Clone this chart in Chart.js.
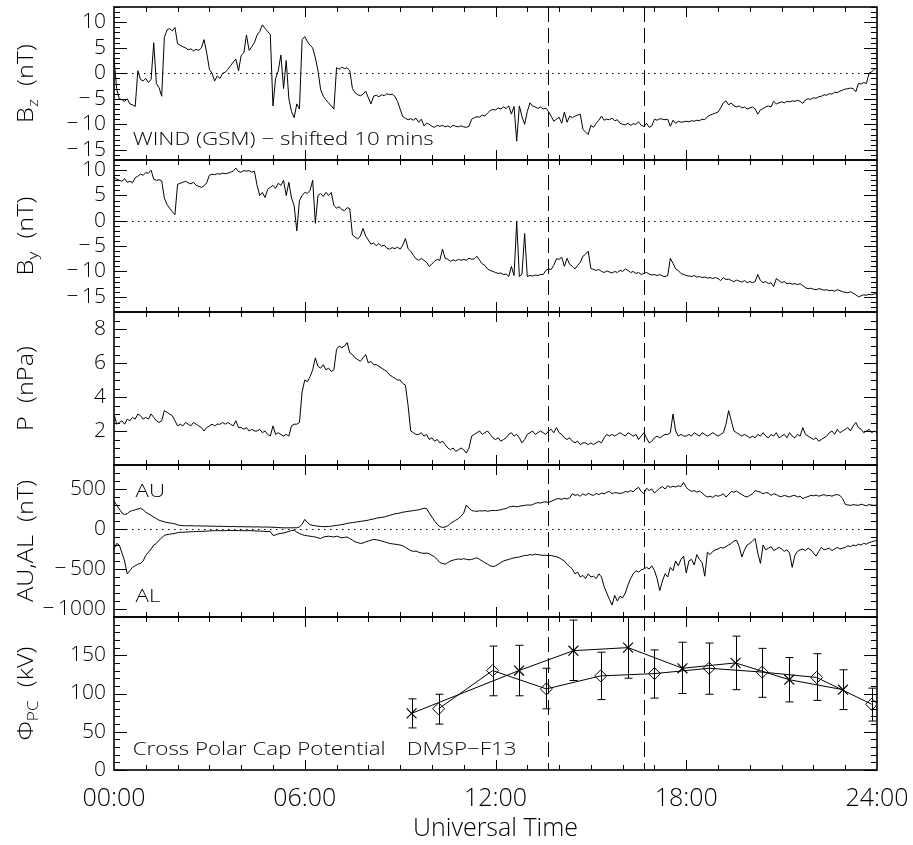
<!DOCTYPE html>
<html>
<head>
<meta charset="utf-8">
<script src="https://cdn.jsdelivr.net/npm/chart.js@4.4.1/dist/chart.umd.min.js"></script>
<style>
  html, body { margin: 0; padding: 0; background: #fff; }
  #page { position: relative; width: 913px; height: 845px; overflow: hidden; background: #fff; }
  #page canvas { position: absolute; left: 0; }
</style>
</head>
<body>
<div id="page"></div>
<script>
// 5-minute samples, 00:00 .. 24:00, one row per hour
const bzValues = [
  3, -3, -5, -5.2, -5.5, -5, -6, -6.2, -6.5, 0.5, -1.2, -1.5,
  -1, -1.8, -1.2, 6, -2, -2.8, -4.5, 7, 8.5, 8.8, 8.3, 9,
  5.8, 5.5, 5.2, 5, 4.6, 4.8, 4.4, 4.7, 4.5, 5, 6.6, 4,
  0.8, 0, -1.5, -0.5, -1, 0, 0.2, 0.8, 1.5, 2.2, 2.8, 0.5,
  3.5, 4, 7.5, 4.5, 5.2, 6, 7.5, 8.2, 9.5, 8.8, 8.2, 7.6,
  -6.4, -1, 0.5, 3.6, -3, 2.5, -5, -7.5, -8.7, -6, -7, 6.6,
  7.2, 6.2, 5.5, 5, 3, 0.5, -3.2, -4.5, -5.2, -5.8, -6.4, -7,
  1.1, 0.8, 1.2, 0.9, 1.1, 0.5, -3, -3.8, -4.2, -4.4, -4.1, -3.5,
  -4.8, -6, -4.5, -4.3, -4.6, -4.2, -4.4, -4, -4.2, -4.1, -4.5, -5.5,
  -7, -8.5, -8.8, -9.1, -8.9, -9.2, -8.8, -9.6, -9, -10.3, -9.8, -10,
  -10.4, -10.6, -10.2, -10.4, -10.2, -10.5, -10.3, -10.6, -10.2, -10.4, -10.5, -10.3,
  -10.5, -10.6, -10.4, -9, -8.7, -8.5, -8.6, -8.2, -8.4, -7.8, -7.3, -7.1,
  -7.2, -6.8, -7, -6.6, -6.9, -6.4, -8, -6.5, -13.3, -6.4, -8.5, -10,
  -7.5, -5.8, -6.4, -6.6, -6.9, -6.6, -7, -6.8, -7.5, -8.4, -9.4, -9,
  -8.6, -9.8, -7.6, -9.6, -8.4, -8.7, -8.4, -8.2, -8, -11, -11.5, -12,
  -10.2, -10.6, -9.8, -9.2, -8.4, -9.2, -9, -9.1, -8.8, -9.3, -9.1, -9.8,
  -10, -10.1, -9.8, -10.2, -9.9, -10, -9.5, -10.2, -10.4, -9.8, -10.6, -10.3,
  -9, -9.2, -8.9, -9, -9.1, -9, -10.4, -9.2, -9.8, -9.4, -9.6, -9.5,
  -9.4, -9.5, -9.3, -9.4, -9.2, -9.3, -9, -9.1, -8.5, -8.2, -8, -7.8,
  -7.6, -6.8, -5.8, -5.4, -6.2, -5.8, -6.4, -6.6, -6.4, -6.8, -6.6, -7,
  -6.8, -6.6, -7, -8, -7.2, -6.9, -6.6, -6.4, -6.6, -5.5, -6, -5.8,
  -5.6, -5.8, -5.5, -5.6, -5.4, -5.5, -5.3, -5.5, -5.9, -5.2, -5, -5.1,
  -4.8, -4.9, -4.6, -4.5, -4.2, -4.3, -4, -4.1, -3.7, -3.8, -3.5, -3.3,
  -3.1, -3, -2.9, -3, -3.6, -2, -2.1, -1.8, -2, 0, 0.3, 0.8,
  1
];

const byValues = [
  8.6, 8.2, 8, 7.8, 8.3, 7.6, 7.8, 7.5, 8.5, 8.8, 9.2, 9,
  9.5, 9.4, 10, 8.2, 8, 8.1, 7.9, 4.5, 3.2, 2.5, 1.8, 1.2,
  7.2, 7.4, 7.6, 7.8, 7.5, 7.3, 7.6, 7, 6.8, 6.6, 6.9, 7.5,
  9, 9.2, 9.1, 9.3, 9.2, 9.4, 9.3, 9.4, 9.6, 9.8, 10.4, 9.7,
  9.6, 9.9, 9.8, 9.9, 9.6, 9.8, 7, 5, 5.6, 4.6, 6.2, 6.6,
  7, 6.4, 7.4, 7, 8, 5, 7.6, 4.5, 3, -2, 4, 5,
  5.6, 5.4, 6, 8, -0.5, 5, 5.4, 4.8, 5.6, 5, 5.6, 3,
  2.5, 2.8, 2.2, 2, 2.6, 2.4, -2.8, -3.2, -3.6, -3, -1.5, -3,
  -3.8, -4.6, -4.4, -4.9, -4.5, -5, -4.8, -5.4, -5.6, -5.3, -5.5, -5.2,
  -5.6, -4.8, -3.5, -5.5, -6, -6.8, -7.5, -7.8, -7.4, -7.8, -8.2, -9,
  -8.5, -8, -7.6, -7.8, -5.6, -7.4, -7.6, -8, -7.7, -7.9, -7.6, -7.8,
  -7.6, -7.8, -7.4, -7.6, -7.5, -7, -7.8, -8.5, -8.8, -9.5, -9.8, -10,
  -10.2, -10.4, -10.3, -10.6, -10.5, -11, -9, -10.8, -0.2, -11, -10.5, -2.5,
  -11, -10.8, -10.9, -10.7, -10.8, -10.6, -10.6, -9.8, -9.5, -9.6, -8.8, -7.5,
  -7.6, -7.2, -9, -7.4, -8.6, -9, -9.5, -8.8, -8.2, -7, -6.6, -6,
  -9.4, -9.6, -9.8, -9.6, -10, -10.2, -9.9, -10.1, -10.3, -10, -10.2, -9.8,
  -10, -9.5, -9.8, -10.2, -10, -10.4, -10.2, -10.6, -10.4, -10.2, -10.5, -10.7,
  -10.6, -10.8, -10.6, -10.9, -11, -10.8, -7.4, -8.4, -9.5, -9.8, -10.4, -10.6,
  -10.8, -10.9, -11, -10.8, -11.1, -11, -11.2, -11.1, -11.3, -11.2, -11.4, -11.2,
  -11.4, -11.8, -11.2, -11.6, -11.5, -11.8, -12, -11.7, -11.9, -12.1, -11.8, -12.2,
  -12, -12.2, -12, -10.6, -11.8, -12.2, -12, -12.4, -12.2, -13, -11.4, -11.8,
  -12.2, -12, -12.4, -12.3, -12.5, -12.4, -12.6, -12.4, -12.8, -13.2, -13.4, -13.3,
  -13.5, -13.6, -13.4, -13.5, -13.7, -13.6, -13.8, -13.7, -13.9, -13.6, -13.8, -14,
  -14.1, -14.2, -14, -14.3, -14.6, -15, -14.8, -14.6, -14.7, -14.5, -14.6, -14.4,
  -14.5
];

const pValues = [
  3, 2.4, 2.5, 2.6, 2.4, 2.7, 2.6, 2.8, 2.7, 3, 2.9, 2.7,
  2.8, 2.7, 3, 2.8, 2.6, 2.5, 2.6, 3.2, 3.1, 3, 2.9, 2.6,
  2.3, 2.4, 2.3, 2.5, 2.4, 2.3, 2.5, 2.4, 2.3, 2.2, 2, 2.2,
  2.3, 2.4, 2.3, 2.4, 2.4, 2.5, 2.4, 2.5, 2.4, 2.3, 2.6, 2.2,
  2.2, 2.1, 2.2, 2, 2.1, 2, 2, 2.1, 1.9, 2, 1.8, 1.7,
  2.3, 1.8, 1.9, 1.8, 1.7, 1.8, 1.7, 2.3, 2.4, 2.4, 2.5, 4.3,
  5, 4.9, 5.2, 5.6, 6.3, 5.8, 5.7, 5.9, 5.6, 5.7, 5.5, 5.6,
  6.8, 7, 6.9, 7, 7.2, 6.6, 6.5, 6.3, 6.2, 6.1, 6.3, 6.5,
  6, 6.1, 5.9, 5.9, 5.8, 5.7, 5.6, 5.5, 5.3, 5.2, 5.1, 5,
  5, 4.8, 4.7, 3.5, 2, 1.9, 1.8, 1.8, 1.9, 1.7, 1.8, 1.5,
  1.6, 1.4, 1.5, 1.3, 1.4, 1.2, 1, 0.9, 1, 0.8, 0.9, 1,
  0.9, 0.7, 1, 1.7, 1.8, 1.9, 2, 1.8, 1.9, 2, 1.8, 1.6,
  1.5, 1.6, 1.4, 1.5, 1.6, 1.8, 1.9, 1.7, 1.8, 1.6, 1.3, 1.5,
  1.8, 1.9, 2, 1.8, 1.9, 2, 1.9, 1.8, 2, 2.1, 1.9, 2.2,
  1.9, 1.8, 1.6, 1.5, 1.6, 1.4, 1.3, 1.4, 1.2, 1.3, 1.3, 1.2,
  1.3, 1.2, 1.3, 1.4, 1.3, 1.6, 1.8, 1.7, 1.8, 1.7, 1.8, 1.9,
  1.8, 1.7, 1.9, 1.8, 1.7, 1.8, 1.5, 1.7, 1.9, 1.6, 1.3, 1.4,
  1.6, 1.7, 1.6, 1.7, 1.8, 1.8, 1.9, 3, 2, 1.7, 1.8, 1.7,
  1.7, 1.8, 1.7, 1.9, 1.8, 1.7, 1.9, 1.8, 1.7, 1.8, 1.9, 1.8,
  1.7, 1.8, 1.9, 2.4, 3.2, 2.6, 2, 1.9, 1.8, 1.7, 1.8, 1.7,
  1.6, 1.7, 1.6, 1.8, 1.7, 1.9, 1.7, 1.6, 1.8, 1.7, 1.9, 1.6,
  1.7, 1.8, 1.6, 1.9, 1.7, 1.6, 1.8, 1.7, 2.2, 1.8, 1.7, 1.6,
  1.5, 1.6, 1.4, 1.5, 1.6, 1.7, 1.9, 2, 1.8, 2.1, 1.9, 2,
  2.1, 2.2, 2, 2.3, 2.5, 2.2, 2.1, 1.9, 2, 2.1, 1.9, 2,
  1.9
];

const auValues = [
  350, 300, 250, 200, 180, 190, 220, 230, 240, 250, 260, 240,
  210, 190, 170, 150, 130, 110, 100, 90, 80, 75, 70, 65,
  50, 45, 42, 40, 40, 42, 40, 38, 40, 38, 36, 38,
  35, 36, 34, 33, 35, 32, 33, 31, 30, 32, 30, 28,
  30, 28, 27, 28, 26, 25, 27, 25, 24, 25, 24, 23,
  22, 20, 18, 16, 15, 14, 15, 15, 16, 15, 25, 60,
  120, 80, 55, 45, 40, 35, 32, 30, 30, 32, 35, 40,
  45, 50, 55, 60, 70, 75, 80, 85, 90, 95, 100, 105,
  110, 120, 125, 135, 140, 145, 150, 160, 170, 180, 190, 195,
  200, 210, 215, 220, 225, 230, 235, 240, 250, 260, 255, 200,
  150, 100, 60, 30, 20, 25, 40, 70, 90, 110, 130, 160,
  200, 300, 260, 230, 225, 220, 228, 225, 230, 222, 228, 232,
  230, 235, 240, 250, 255, 275, 280, 285, 278, 285, 290, 295,
  300, 298, 305, 320, 330, 325, 335, 340, 330, 345, 360, 375,
  380, 370, 385, 375, 390, 440, 420, 430, 410, 440, 420, 445,
  430, 420, 445, 430, 450, 440, 460, 470, 440, 455, 450, 445,
  450, 470, 460, 480, 465, 500, 520, 470, 440, 510, 480, 500,
  450, 480, 510, 530, 500, 540, 520, 535, 525, 540, 530, 580,
  520, 490, 470, 480, 460, 475, 450, 420, 400, 410, 395, 420,
  410, 420, 440, 400, 430, 470, 460, 475, 450, 430, 410, 400,
  420, 440, 480, 470, 460, 440, 455, 450, 420, 440, 430, 410,
  405, 420, 410, 400, 415, 420, 400, 410, 380, 395, 405, 420,
  415, 425, 410, 420, 430, 415, 420, 410, 425, 430, 420, 380,
  310, 300, 295, 305, 300, 295, 310, 300, 290, 305, 300, 295,
  300
];

const alValues = [
  -250, -180, -200, -300, -400, -560, -520, -480, -460, -440, -430, -400,
  -330, -290, -250, -200, -180, -140, -110, -80, -70, -65, -60, -55,
  -45, -40, -42, -38, -36, -35, -33, -32, -30, -30, -28, -26,
  -24, -22, -21, -20, -20, -22, -20, -19, -18, -20, -19, -20,
  -20, -21, -22, -20, -22, -23, -25, -26, -28, -30, -32, -30,
  -80, -75, -60, -55, -50, -40, -30, -20, -15, -40, -55, -70,
  -80, -85, -90, -95, -100, -110, -120, -100, -95, -90, -95, -100,
  -90, -100, -110, -105, -100, -120, -140, -160, -170, -180, -175, -160,
  -150, -140, -130, -135, -140, -150, -160, -170, -180, -185, -190, -195,
  -200, -210, -230, -250, -270, -280, -275, -290, -300, -305, -300, -310,
  -330, -350, -380, -420, -430, -440, -420, -400, -390, -380, -375, -380,
  -370, -380, -385, -380, -370, -360, -380, -400, -420, -440, -460, -470,
  -460, -440, -420, -400, -390, -380, -370, -360, -355, -350, -340, -330,
  -330, -320, -325, -315, -320, -325, -330, -328, -335, -330, -340, -345,
  -360, -380, -400, -440, -470, -500, -560, -540, -600, -580, -620, -560,
  -600, -590, -620, -560, -600, -720, -800, -880, -950, -830, -900, -840,
  -860, -800, -700, -620, -560, -520, -540, -510, -500, -480, -500, -460,
  -520, -620, -770, -650, -560, -600, -480, -520, -400, -460, -380, -340,
  -550, -400, -380, -450, -320, -380, -420, -590, -290, -320, -280, -260,
  -250, -230, -240, -220, -200, -180, -150, -140, -220, -350, -260, -200,
  -180, -150, -120, -300, -430, -200, -260, -240, -220, -270, -250, -230,
  -250, -280, -260, -300, -480, -330, -280, -260, -250, -270, -240, -260,
  -300, -340, -280, -230, -260, -250, -240, -270, -250, -230, -250, -240,
  -230, -210, -220, -200, -210, -190, -200, -180, -190, -170, -160, -150,
  -140
];

// DMSP-F13 cross polar cap potential (kV)
const crossTimes = [9.36, 12.74, 14.45, 16.17, 17.88, 19.55, 21.24, 22.93];
const crossValues = [74, 130, 156, 160, 133, 140, 118, 105];
const crossLow = [55, 97, 117, 120, 100, 105, 89, 79];
const crossHigh = [93, 163, 196, 200, 167, 175, 147, 131];

const diamondTimes = [10.21, 11.91, 13.6, 15.31, 17.0, 18.72, 20.39, 22.1, 23.83];
const diamondValues = [80, 130, 106, 123, 126, 133, 128, 121, 86];
const diamondLow = [60, 97, 80, 92, 94, 99, 95, 91, 64];
const diamondHigh = [99, 162, 133, 154, 157, 166, 159, 152, 107];

const eventTimes = [13 + 40 / 60, 16 + 40 / 60];

const timeTicks = [0, 6, 12, 18, 24];
const timeLabels = ["00:00", "06:00", "12:00", "18:00", "24:00"];
const bzTicks = [-15, -10, -5, 0, 5, 10];
const byTicks = [-15, -10, -5, 0, 5, 10];
const pTicks = [2, 4, 6, 8];
const aeTicks = [-1000, -500, 0, 500];
const pcTicks = [0, 50, 100, 150];

const FONT = '"Open Sans", "DejaVu Sans", sans-serif';
const WEIGHT = 300;
const INK = "#000";
const SAMPLE = 5 / 60;

function series(values) {
    return values.map((v, i) => ({ x: i * SAMPLE, y: v }));
}

function points(times, values) {
    return times.map((t, i) => ({ x: t, y: values[i] }));
}

function fmtTick(v) {
    return v < 0 ? "\u2212\u2009" + Math.abs(v) : String(v);
}

const panels = [
    { id: "bz", top: 7, height: 153, min: -17, max: 13, ticks: bzTicks, minor: 1, zero: true,
      title: [["B", 0], ["z", 1], ["  (nT)", 0]],
      notes: [{ text: "WIND (GSM) \u2212 shifted 10 mins", t: 0.59, v: -14 }],
      datasets: [{ data: series(bzValues) }] },
    { id: "by", top: 160, height: 152, min: -18, max: 12, ticks: byTicks, minor: 1, zero: true,
      title: [["B", 0], ["y", 1], ["  (nT)", 0]],
      notes: [],
      datasets: [{ data: series(byValues) }] },
    { id: "p", top: 312, height: 153, min: 0, max: 9, ticks: pTicks, minor: 0.5, zero: false,
      title: [["P  (nPa)", 0]],
      notes: [],
      datasets: [{ data: series(pValues) }] },
    { id: "ae", top: 465, height: 152, min: -1100, max: 800, ticks: aeTicks, minor: 100, zero: true,
      title: [["AU,AL  (nT)", 0]],
      notes: [{ text: "AU", t: 0.68, v: 400 }, { text: "AL", t: 0.68, v: -910 }],
      datasets: [{ data: series(auValues) }, { data: series(alValues) }] },
    { id: "pc", top: 617, height: 153, min: 0, max: 200, ticks: pcTicks, minor: 10, zero: false,
      title: [["\u03A6", 0], ["PC", 1], ["  (kV)", 0]],
      notes: [{ text: "Cross Polar Cap Potential", t: 0.59, v: 19.6 },
              { text: "DMSP\u2212F13", t: 9.21, v: 19.6 }],
      errorBars: [[crossTimes, crossLow, crossHigh], [diamondTimes, diamondLow, diamondHigh]],
      datasets: [
        { data: points(crossTimes, crossValues), pointStyle: "crossRot", pointRadius: 7, pointBorderWidth: 1.2 },
        { data: points(diamondTimes, diamondValues), pointStyle: "rectRot", pointRadius: 6, pointBorderWidth: 1,
          pointBackgroundColor: "rgba(0,0,0,0)" }
      ],
      bottom: true }
];

function drawStretched(ctx, text, x, y, font, sx) {
    ctx.save();
    ctx.translate(x, y);
    ctx.scale(sx, 1);
    ctx.font = font;
    ctx.fillText(text, 0, 0);
    ctx.restore();
}

function idlPlugin(p) {
    return {
        id: "idl_" + p.id,
        beforeDatasetsDraw(chart) {
            const { ctx, chartArea: a, scales: { x, y } } = chart;
            ctx.save();
            ctx.beginPath();
            ctx.rect(a.left, a.top, a.right - a.left, a.bottom - a.top);
            ctx.clip();
            ctx.strokeStyle = INK;
            ctx.lineWidth = 1;
            if (p.zero) {
                ctx.setLineDash([1.5, 4.5]);
                const yz = Math.round(y.getPixelForValue(0)) + 0.5;
                ctx.beginPath();
                ctx.moveTo(a.left, yz);
                ctx.lineTo(a.right, yz);
                ctx.stroke();
            }
            ctx.setLineDash([15, 6]);
            ctx.lineDashOffset = p.top - 7;
            eventTimes.forEach(t => {
                const px = Math.round(x.getPixelForValue(t)) + 0.5;
                ctx.beginPath();
                ctx.moveTo(px, a.top);
                ctx.lineTo(px, a.bottom);
                ctx.stroke();
            });
            ctx.restore();
        },
        afterDatasetsDraw(chart) {
            const { ctx, chartArea: a, scales: { x, y } } = chart;
            ctx.save();
            ctx.strokeStyle = INK;
            ctx.fillStyle = INK;

            // error bars
            ctx.lineWidth = 1;
            (p.errorBars || []).forEach(([times, lo, hi]) => {
                times.forEach((t, i) => {
                    const px = Math.round(x.getPixelForValue(t)) + 0.5;
                    const y0 = y.getPixelForValue(lo[i]);
                    const y1 = y.getPixelForValue(hi[i]);
                    ctx.beginPath();
                    ctx.moveTo(px, y0); ctx.lineTo(px, y1);
                    ctx.moveTo(px - 4, y0); ctx.lineTo(px + 4, y0);
                    ctx.moveTo(px - 4, y1); ctx.lineTo(px + 4, y1);
                    ctx.stroke();
                });
            });

            // ticks, pointing inward on all four sides
            ctx.beginPath();
            const isMajor = v => p.ticks.some(m => Math.abs(m - v) < 1e-6);
            for (let k = Math.ceil(p.min / p.minor); k <= Math.floor(p.max / p.minor); k++) {
                const v = k * p.minor;
                const len = isMajor(v) ? 13 : 6;
                const py = Math.round(y.getPixelForValue(v)) + 0.5;
                ctx.moveTo(a.left, py); ctx.lineTo(a.left + len, py);
                ctx.moveTo(a.right, py); ctx.lineTo(a.right - len, py);
            }
            for (let h = 1; h < 24; h++) {
                const len = h % 6 === 0 ? 10 : 5;
                const px = Math.round(x.getPixelForValue(h)) + 0.5;
                ctx.moveTo(px, a.top); ctx.lineTo(px, a.top + len);
                ctx.moveTo(px, a.bottom); ctx.lineTo(px, a.bottom - len);
            }
            ctx.stroke();

            // frame
            ctx.lineWidth = 1.6;
            ctx.strokeRect(a.left, a.top, a.right - a.left, a.bottom - a.top);

            // axis title, rotated, with subscripts
            const mainFont = WEIGHT + " 22px " + FONT;
            const subFont = WEIGHT + " 15px " + FONT;
            ctx.save();
            ctx.translate(33, (a.top + a.bottom) / 2);
            ctx.rotate(-Math.PI / 2);
            ctx.scale(1.15, 1);
            ctx.textBaseline = "alphabetic";
            let total = 0;
            p.title.forEach(([txt, sub]) => {
                ctx.font = sub ? subFont : mainFont;
                total += ctx.measureText(txt).width;
            });
            let cx = -total / 2;
            p.title.forEach(([txt, sub]) => {
                ctx.font = sub ? subFont : mainFont;
                ctx.fillText(txt, cx, sub ? 5 : 0);
                cx += ctx.measureText(txt).width;
            });
            ctx.restore();

            // in-panel labels
            ctx.textBaseline = "alphabetic";
            ctx.textAlign = "left";
            p.notes.forEach(n => {
                drawStretched(ctx, n.text, x.getPixelForValue(n.t), y.getPixelForValue(n.v),
                    WEIGHT + " 18px " + FONT, 1.24);
            });
            ctx.restore();
        }
    };
}

const page = document.getElementById("page");

panels.forEach(p => {
    const pad = 14;
    const canvasTop = p.top - pad;
    const canvasHeight = p.bottom ? 845 - canvasTop : p.height + 2 * pad;
    const canvas = document.createElement("canvas");
    canvas.width = 913;
    canvas.height = canvasHeight;
    canvas.style.top = canvasTop + "px";
    canvas.style.width = "913px";
    canvas.style.height = canvasHeight + "px";
    page.appendChild(canvas);

    const axisHeight = p.bottom ? canvasHeight - pad - p.height : 0;

    new Chart(canvas.getContext("2d"), {
        type: "line",
        data: {
            datasets: p.datasets.map(d => Object.assign({
                borderColor: INK,
                borderWidth: 1,
                pointRadius: 0,
                pointBorderColor: INK,
                fill: false,
                tension: 0
            }, d))
        },
        options: {
            responsive: false,
            animation: false,
            devicePixelRatio: 1,
            events: [],
            layout: { padding: { top: pad, bottom: p.bottom ? 0 : pad, left: 0, right: 36 } },
            plugins: { legend: { display: false }, tooltip: { enabled: false } },
            scales: {
                x: {
                    type: "linear",
                    min: 0,
                    max: 24,
                    display: !!p.bottom,
                    grid: { display: false, drawTicks: false },
                    border: { display: false },
                    afterBuildTicks: s => { s.ticks = timeTicks.map(v => ({ value: v })); },
                    ticks: {
                        callback: (v, i) => timeLabels[i],
                        font: { family: FONT, size: 25, weight: WEIGHT },
                        color: INK,
                        padding: 14,
                        maxRotation: 0,
                        autoSkip: false
                    },
                    title: {
                        display: true,
                        text: "Universal Time",
                        font: { family: FONT, size: 25, weight: WEIGHT },
                        color: INK,
                        padding: { top: 0, bottom: 1 }
                    },
                    afterFit: s => {
                        s.height = axisHeight;
                        s.paddingLeft = 0;
                        s.paddingRight = 0;
                    }
                },
                y: {
                    type: "linear",
                    min: p.min,
                    max: p.max,
                    grid: { display: false, drawTicks: false },
                    border: { display: false },
                    afterBuildTicks: s => { s.ticks = p.ticks.map(v => ({ value: v })); },
                    ticks: {
                        callback: v => fmtTick(v),
                        font: { family: FONT, size: 21, weight: WEIGHT },
                        color: INK,
                        padding: 8,
                        autoSkip: false
                    },
                    afterFit: s => {
                        s.width = 114;
                        s.paddingTop = 0;
                        s.paddingBottom = 0;
                    }
                }
            }
        },
        plugins: [idlPlugin(p)]
    });
});
</script>
</body>
</html>
